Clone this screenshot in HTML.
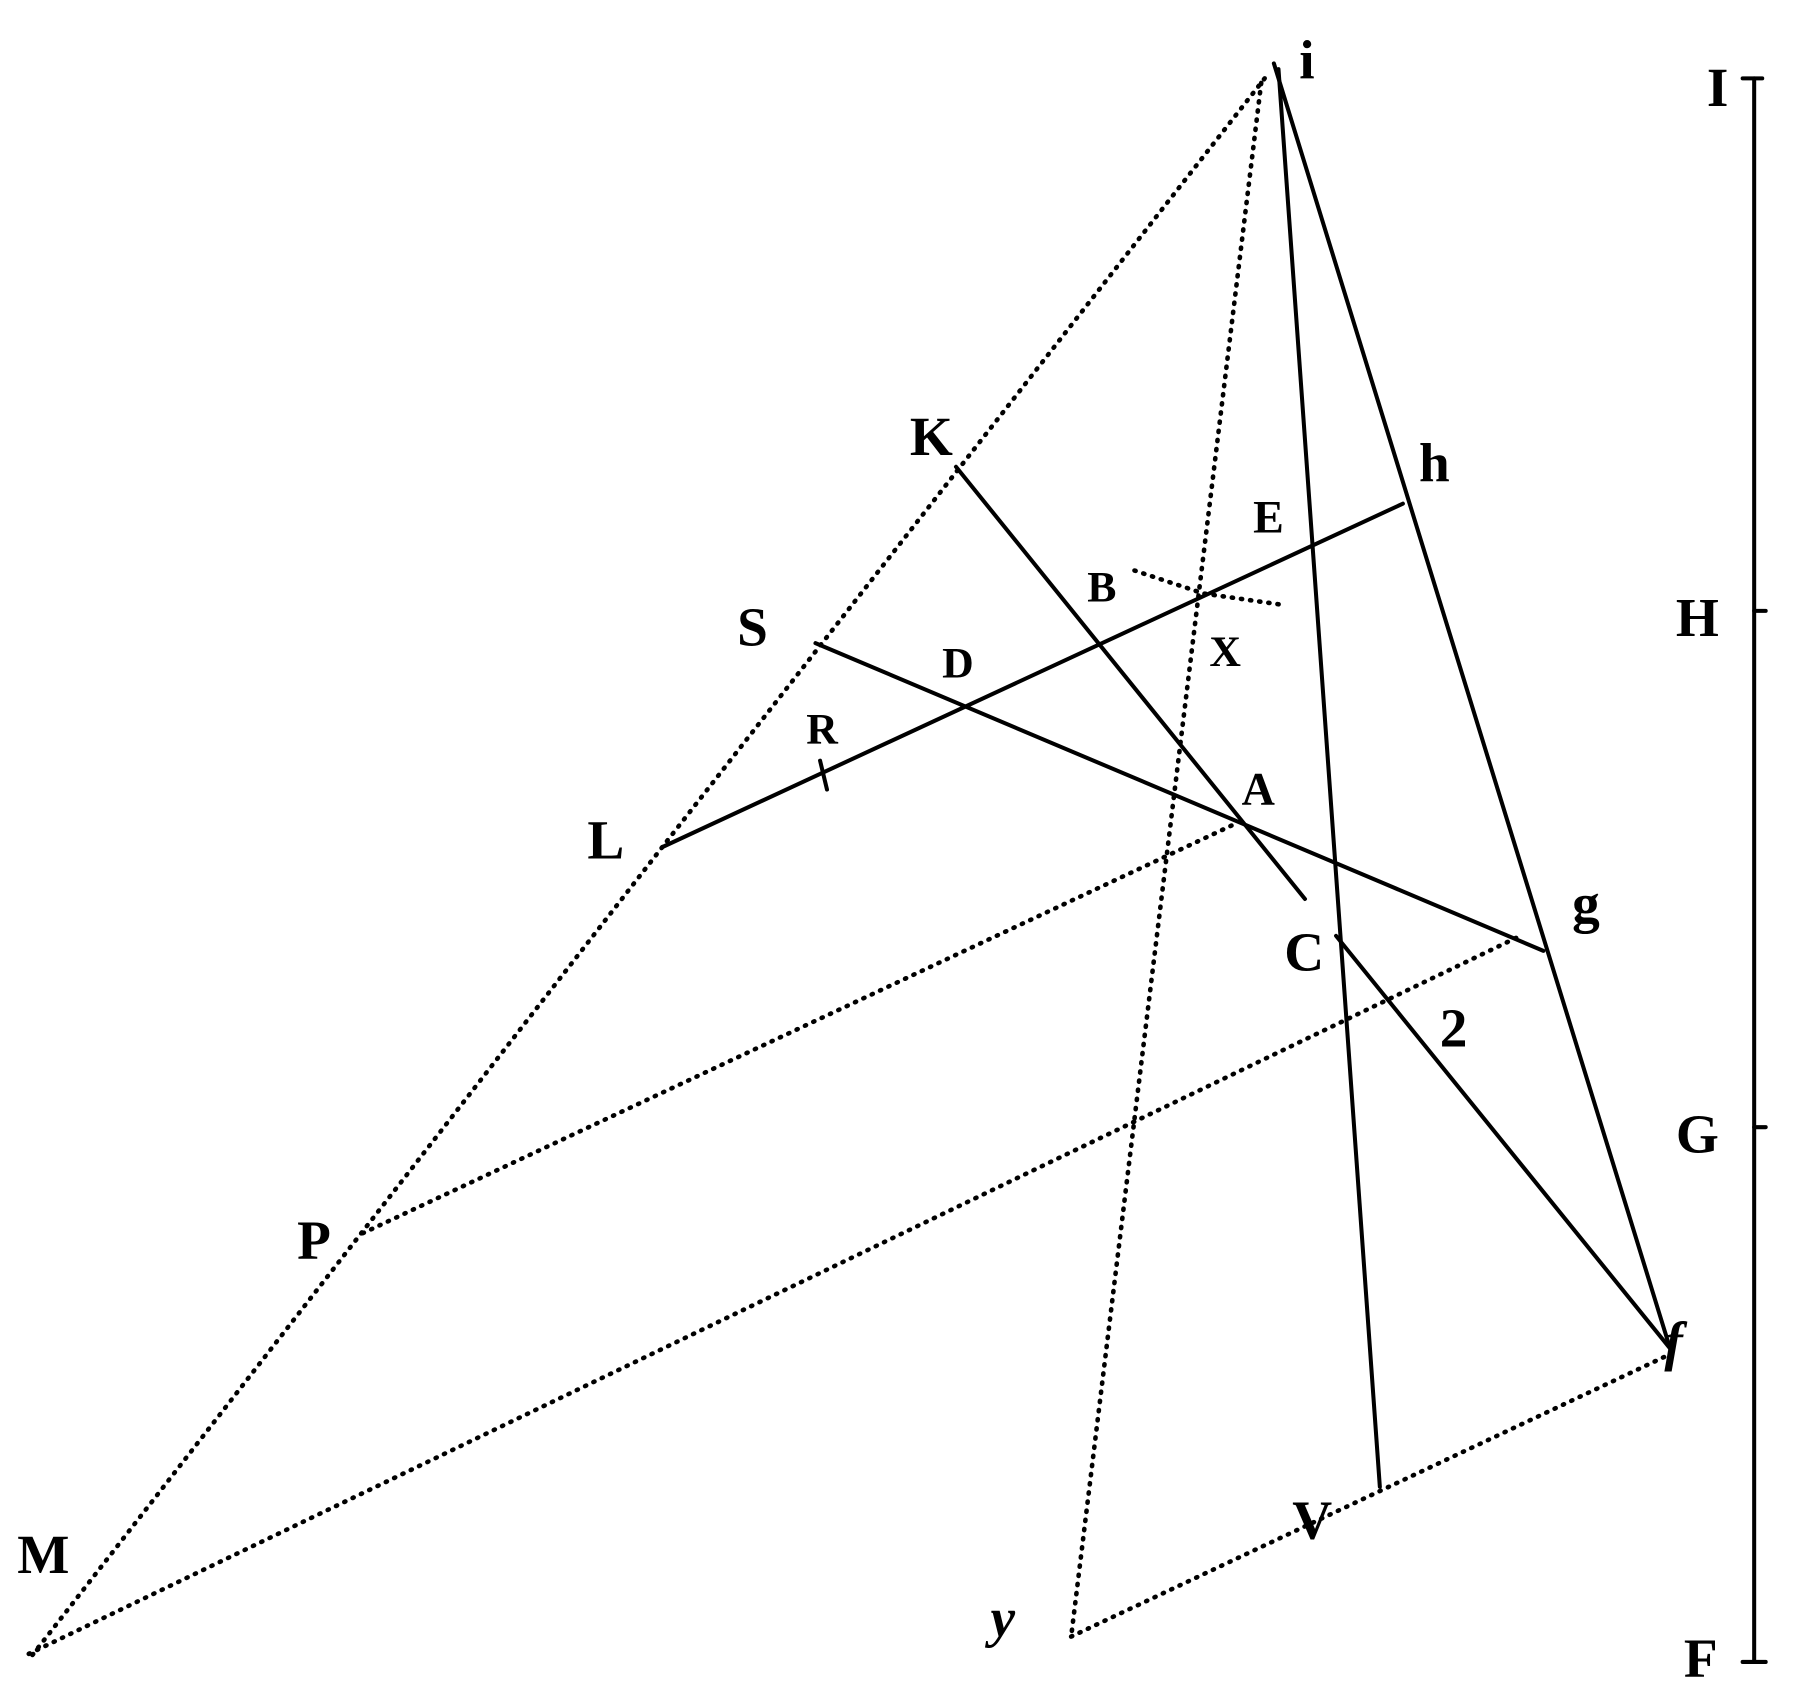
<!DOCTYPE html>
<html><head><style>html,body{margin:0;padding:0;background:#fff}svg{display:block}</style></head>
<body>
<svg width="1806" height="1685" viewBox="0 0 1568 1462" preserveAspectRatio="none" xmlns="http://www.w3.org/2000/svg">
<g stroke="#000" fill="none" stroke-linecap="round">
<g stroke-width="3.5">
<line x1="1523" y1="68" x2="1523" y2="1442"/>
<line x1="1513" y1="68" x2="1530" y2="68"/>
<line x1="1523" y1="530" x2="1533" y2="530"/>
<line x1="1523" y1="978" x2="1533" y2="978"/>
<line x1="1513" y1="1442" x2="1533" y2="1442"/>
<line x1="1106" y1="55" x2="1450" y2="1170"/>
<line x1="1110" y1="60" x2="1198" y2="1290"/>
<line x1="830" y1="405" x2="1133" y2="780"/>
<line x1="1160" y1="812" x2="1450" y2="1170"/>
<line x1="575" y1="735" x2="1218" y2="437"/>
<line x1="708" y1="558" x2="1340" y2="825"/>
<line x1="712" y1="660" x2="718" y2="685"/>
</g>
<g stroke-width="4" stroke-dasharray="1 7">
<line x1="1098" y1="68" x2="575" y2="735"/>
<line x1="575" y1="735" x2="25" y2="1440"/>
<line x1="315" y1="1070" x2="1072" y2="715"/>
<line x1="25" y1="1435" x2="1320" y2="812"/>
<line x1="1095" y1="72" x2="930" y2="1420"/>
<line x1="930" y1="1420" x2="1450" y2="1175"/>
<polyline points="985,495 1045,515 1115,525"/>
</g>
</g>
<g font-family="Liberation Serif, serif" font-weight="bold" fill="#000" font-size="48">
<text x="1128" y="68">i</text>
<text x="1482" y="92">I</text>
<text x="1455" y="552">H</text>
<text x="1455" y="1000">G</text>
<text x="1462" y="1455">F</text>
<text x="790" y="395">K</text>
<text x="1088" y="462" font-size="40">E</text>
<text x="1232" y="418">h</text>
<text x="944" y="522" font-size="38">B</text>
<text x="1050" y="578" font-size="38">X</text>
<text x="640" y="560">S</text>
<text x="818" y="588" font-size="38">D</text>
<text x="700" y="645" font-size="38">R</text>
<text x="1078" y="698" font-size="40">A</text>
<text x="510" y="745">L</text>
<text x="1365" y="800">g</text>
<text x="1115" y="842">C</text>
<text x="1250" y="908">2</text>
<text x="258" y="1092">P</text>
<text x="1445" y="1180" font-style="italic">f</text>
<text x="1122" y="1335">V</text>
<text x="860" y="1420" font-style="italic">y</text>
<text x="15" y="1365">M</text>
</g>
</svg>
</body></html>
